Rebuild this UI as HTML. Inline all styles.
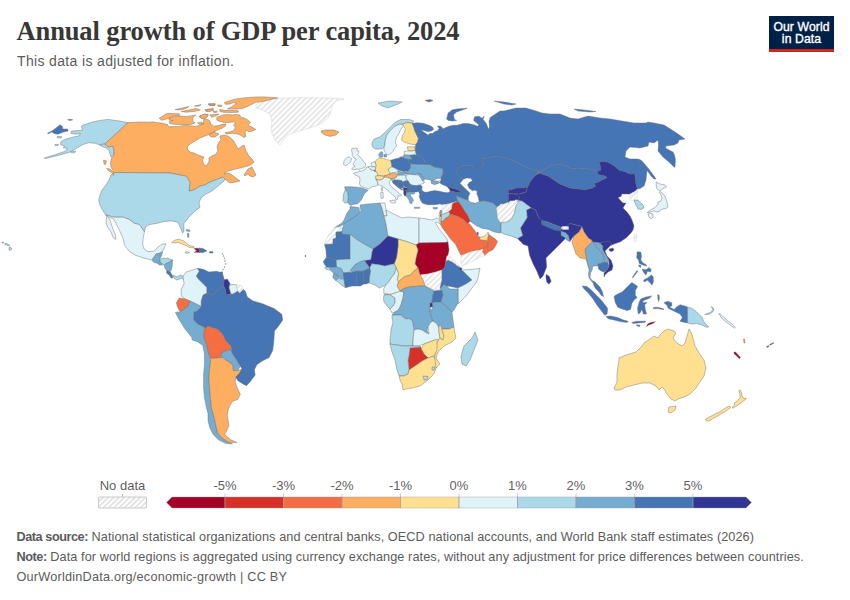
<!DOCTYPE html>
<html><head><meta charset="utf-8"><style>
html,body{margin:0;padding:0;background:#fff;}
body{width:850px;height:600px;position:relative;overflow:hidden;font-family:"Liberation Sans",sans-serif;}
.title{position:absolute;left:16.5px;top:15.7px;font-family:"Liberation Serif",serif;font-weight:bold;font-size:26.5px;color:#373737;white-space:nowrap;letter-spacing:-0.12px;}
.sub{position:absolute;left:17px;top:53px;font-size:14px;color:#5b5b5b;white-space:nowrap;letter-spacing:0.35px;}
.logo{position:absolute;left:769px;top:16px;width:65px;height:36px;background:#002147;}
.logo .bar{position:absolute;left:0;bottom:0;width:65px;height:3px;background:#ce261e;}
.logo .t{position:absolute;left:0;top:6.4px;width:65px;text-align:center;color:#fff;font-size:12.2px;line-height:11.8px;font-weight:normal;letter-spacing:0.1px;-webkit-text-stroke:0.35px #fff;}
.foot{position:absolute;left:16.5px;font-size:12.7px;color:#5b5b5b;white-space:nowrap;}
.foot b{color:#5b5b5b;letter-spacing:-0.45px;}
svg{position:absolute;left:0;top:0;}
.lt{font-family:"Liberation Sans",sans-serif;font-size:13px;fill:#5f5f5f;stroke:none;}
</style></head><body>
<div class="title">Annual growth of GDP per capita, 2024</div>
<div class="sub">This data is adjusted for inflation.</div>
<div class="logo"><div class="t">Our World<br>in Data</div><div class="bar"></div></div>
<svg width="850" height="600" viewBox="0 0 850 600">
<defs><pattern id="hatch" width="3.9" height="4" patternUnits="userSpaceOnUse" patternTransform="rotate(45)"><rect width="3.9" height="4" fill="#fff"/><line x1="0.9" y1="0" x2="0.9" y2="4" stroke="#e4e4e4" stroke-width="1.7"/></pattern><pattern id="hatch2" width="3.75" height="4" patternUnits="userSpaceOnUse" patternTransform="rotate(45)"><rect width="3.75" height="4" fill="#fff"/><line x1="0.8" y1="0" x2="0.8" y2="4" stroke="#dcdcdc" stroke-width="1.5"/></pattern></defs>
<g stroke="#6e6e6e" stroke-width="0.45" stroke-linejoin="round">
<path d="M256,105 264,100 278,98.4 300,97.6 330,98 344,99 336,101 332,106 330,114 328,118 322,123 316,126 306,129 296,132 288,135 282,142 280,145 275,140 271,131 272,122 270,114 262,110 256,108Z" fill="url(#hatch)" stroke="#cfcfcf"/>
<path d="M127.9,122.6 119.4,121 107.8,119.4 99.3,120.5 90.8,122.6 82.4,125.2 81.3,126.8 82.9,130 79.2,130.5 71.8,131.1 70.7,133.2 75,134.2 80.3,133.7 79.2,135.8 71.8,137.4 64.4,139.5 60.7,142.2 60.7,144.8 64.4,145.9 63.3,148 67.5,148 65.4,151.2 55.9,154.4 44.2,158.1 45.3,158.6 58,155.4 69.7,152.3 77.1,148 82.4,144.8 88.7,142.7 95.1,143.3 99.3,144.8 105,144Z" fill="#abd9e9"/>
<path d="M105,144 108,147 113,146 114,150 113.5,155 111,157 110,154 109,150 106,148 100,145.5 100,144.4Z" fill="#abd9e9"/>
<path d="M47.4,133.2 52.7,130.5 60.1,124.7 62.2,126.3 62.8,129 67.5,129 68.1,131.1 63.3,132.1 58,134.2 54.8,133.7 51.7,132.1 48.5,133.7Z" fill="#4575b4"/>
<path d="M128,122.6 140,122 150,122.2 152.3,121.8 156.1,122.6 161.5,123 167.6,124.5 168.3,126.8 179,126.4 184.4,125.2 195.9,126.4 199.7,125.2 203.5,123.7 203.8,118.7 207.6,119.5 209.9,121 210.7,124.1 213.8,126.3 218.3,125.6 222.9,124.1 226,124.1 225.2,126.3 221.4,128.6 216.8,130.2 213,132.5 210,134 205,136 200,138 195,141 190,144 187,147 188,150 190,152 194,153 198,155 204,157 202.5,160 203.5,164 206,166 209,162 209,158 212,156 216,154 218,151 217,147 219,142 221,140 220,136 224,135 228,136 233,140 236,145 238,149 242,146 244,145 246,151 249,156 252,159 254,162 252,164 248,166 244,167 240,168 236,169 232,170 228,171 224,174 229,173 232,175 236,178 240,181 236,182 230,183 227,181 225,179 223,177 218,179 210,182 205,185 200,186 194,190 189,191 190,182 186,176 180,175 170,173 114,172.5 111,167 110.5,163 111.5,158 114,155 114,150 113,146 108,147 105,144Z" fill="#fdae61"/>
<path d="M244,175 248,169 252,167 254,171 256,175 253,177 250,176 248,174 245,176Z" fill="#fdae61"/>
<path d="M114,172.5 170,173 180,175 186,176 190,182 189,191 194,190 200,186 205,185 210,182 218,179 223,177 225,179 224,181 218,186 212,191 206,194 201,198 199,203 200,207.3 195.1,211 188.9,217.2 183.9,223.4 183.9,230.8 182.7,233.3 180.2,227.1 177.8,222.2 171.5,220.9 164.1,221.5 156.7,223.4 149.3,224.6 145.6,227.1 144.4,232 142,228.3 139.5,224.6 134.5,223.4 129.6,219.7 123.4,217.2 113.5,217.2 105.5,214.8 102.4,209.8 99.9,204.9 98.7,200 100,195 102,190 106,185 109,180 111,175Z" fill="#abd9e9"/>
<path d="M105.5,214.8 113.5,217.2 123.4,217.2 129.6,219.7 134.5,223.4 139.5,224.6 142,228.3 144.4,232 143.2,238.2 142.6,244.4 144.4,249.3 148.1,251.7 154.3,251.1 158,246.9 161.7,244.4 166,243.8 164.1,248.1 162.5,251.7 159.2,253.3 155.8,254.2 155,255.8 152.5,259.2 150.8,260 148.3,259.2 143.2,257.9 135.8,255.4 129.6,251.7 124.6,245.6 123.4,239.4 119.7,230.8 116,223.4 113.5,219 109.5,217.5Z" fill="#e0f3f8"/>
<path d="M106.7,215.4 109.8,219.7 112.3,227.1 115.4,234.5 116,239.4 113.5,238.2 111,232 107.4,227.1 106.1,222.2Z" fill="#e0f3f8"/>
<path d="M152.5,259.2 155,255.8 155.8,254.2 159.2,253.3 159.6,258.3 160,261.7 157.5,263.3 154.2,262.5 152.1,260.8Z" fill="#74add1"/>
<path d="M159.6,253.3 162.5,251.7 161.7,255.8 160,258.3Z" fill="#74add1"/>
<path d="M160,259.2 162.5,258.3 168.3,258.3 172.5,260 170,261.7 166.7,263.3 164.2,265 161.7,263.3 160,261.7Z" fill="#abd9e9"/>
<path d="M157.5,263.3 160,261.7 161.7,263.3 162.5,265 159.2,265Z" fill="#74add1"/>
<path d="M164.2,265 166.7,263.3 170,261.7 172.5,260 172.1,266.7 171.3,270 170,271.7 166.7,270.8 165,268.3Z" fill="#74add1"/>
<path d="M166.7,270.8 170,271.7 172.1,275 172.9,277.5 171.3,278.3 169.2,275 166.7,273.3Z" fill="#4575b4"/>
<path d="M172.9,275 176.7,276.7 180.8,275 185,277.5 184.2,280 181.7,278.3 179.2,279.2 176.7,280 174.2,278.3Z" fill="#abd9e9"/>
<path d="M171.7,242.5 175,240 179.2,239.2 183.3,240.8 186.7,243.3 190,245.8 194.2,246.7 193.3,247.9 189.2,247.5 186.7,245.8 182.5,244.2 178.3,242.5 174.2,242.9Z" fill="#fee090"/>
<path d="M194.2,248.3 198.3,248.3 199.2,249.5 199.2,252.5 196,252.3 194.2,252.5 196.7,250.8 195,249.5Z" fill="#a50026"/>
<path d="M199,248 203,248.5 207,251 203,252.5 199,252.5Z" fill="#4575b4"/>
<path d="M185,252 187.5,251.7 189.6,252.7 187.5,253.3 185.5,253Z" fill="#fee090"/>
<path d="M209.6,251.6 213,251.6 213,253 209.6,253Z" fill="#4575b4"/>
<path d="M186,229.5 190,230 189.5,231.5 186.5,231Z" fill="#74add1"/>
<path d="M321,131 326,130 334,130 339,132 336,135 330,136.4 325,135 322,133Z" fill="#fdae61"/>
<path d="M159.2,118.3 166.8,113.4 179,113.8 179.8,115.3 172.9,116.1 169.1,118.3 161.5,120.3Z" fill="#fdae61"/>
<path d="M169.1,118.3 174.5,116.4 180.6,116.1 186.7,116.4 192,115.7 195.9,114.9 192.8,117.6 192.8,121.4 195.1,122.9 190.5,124.5 183.6,124.5 176.8,124.5 169.9,123.7 169.1,121.4 172.9,120.6 169.1,119.9Z" fill="#fdae61"/>
<path d="M175.2,109.6 189,106.5 185.9,108.4 180.6,109.9Z" fill="#fdae61"/>
<path d="M181.3,111.5 192.8,109.2 195.9,108.4 200.5,109.9 194.3,111.5 185.9,112.2Z" fill="#fdae61"/>
<path d="M194.3,106.1 201.2,104.6 198.9,106.1Z" fill="#fdae61"/>
<path d="M205,109.9 213.5,108.4 211.2,110.7 206.6,111.5Z" fill="#fdae61"/>
<path d="M208.1,103.8 215,103.4 215,105.4 209.6,105.4Z" fill="#fdae61"/>
<path d="M198.9,116.8 203.5,114.5 208.1,114.5 206.6,117.6 202,118.3Z" fill="#fdae61"/>
<path d="M197.4,122.9 202,122.2 203.5,123.7 199.7,124.5Z" fill="#fdae61"/>
<path d="M224.5,102.3 230.6,100.4 236.7,98.8 245.9,97.7 257.3,96.9 265,96.9 277.7,97.8 265,101.1 255,102.6 252,104.2 245.9,107.2 241.3,108.8 234.4,109.1 227.5,108.8 232.1,106.5 236.7,103.4 233.6,102.6 229.1,104.2 225.2,104.2Z" fill="#fdae61"/>
<path d="M219.9,109.5 225.2,110.3 232.1,110.3 238.2,110.7 238.2,112.2 230.6,112.6 222.9,112.2 219.9,111.4Z" fill="#fdae61"/>
<path d="M208.4,104.2 215.3,104.6 213.8,105.7 209.2,105.3Z" fill="#fdae61"/>
<path d="M217.6,104.9 222.2,105.3 221.4,106.5 218.3,106.5Z" fill="#fdae61"/>
<path d="M205.4,109.9 213,108.8 213.8,110.3 209.2,111.4 206.1,111.1Z" fill="#fdae61"/>
<path d="M213,111.4 216.8,111.1 217.2,112.2 213.8,112.6Z" fill="#fdae61"/>
<path d="M216.8,117.2 222.9,114.9 227.5,114.5 232.1,114.9 235.9,114.5 239.8,114.9 240.5,117.2 244.3,117.9 248.2,120.2 250.5,122.5 248.9,124.1 248.2,125.6 252,127.1 255.8,129.4 252.8,130.9 248.9,131.7 245.9,130.2 245.1,133.2 245.9,136.3 243.6,137.8 241.3,135.5 237.5,134 232.1,133.2 226,134 225.2,132.5 230.6,131.7 234.4,130.2 235.2,127.1 233.6,124.8 235.9,123.3 233.6,121.8 229.1,122.5 224.5,122.5 219.9,121.4 216.8,120.2Z" fill="#fdae61"/>
<path d="M209,135 214,132 219,134 215,137 211,137Z" fill="#fdae61"/>
<path d="M200,115.6 204.6,114.1 208.4,114.9 206.1,117.9 201.5,118.7Z" fill="#fdae61"/>
<path d="M209.9,114.9 219.1,114.1 216.8,115.6 211.5,117.2Z" fill="#fdae61"/>
<path d="M378,103 390,101 402,102 398,104 388,108 382,106Z" fill="#abd9e9"/>
<path d="M372.4,142 374.1,139.1 380,136.8 384.7,132.6 389.4,127.9 395,122.5 400.6,119.5 409.1,119.5 413.8,120.9 412,123.3 407.2,122.4 402.5,124.2 398.8,124.4 394.1,126.8 389.4,131.5 386.5,135.6 385.3,140.3 384.7,145.6 382.9,148.5 380,149.1 375.3,149.1 372.9,147.4 371.8,144.4Z" fill="#abd9e9"/>
<path d="M384.7,145.6 385.3,140.3 386.5,135.6 389.4,131.5 394.1,126.8 398.8,124.4 402.5,124.2 403.5,126.1 401,129 398.8,133.8 396.5,137.4 395.3,142.1 396.5,145.6 394.1,149.1 392.9,151.5 390.6,153.8 388.2,155 385.9,153.8 384.1,150.3 384.1,147.4Z" fill="#e0f3f8"/>
<path d="M402.5,124.2 407.2,122.4 412,123.3 413.8,127.1 414.8,130.8 416.6,134.6 418.5,138.4 417.6,142.1 415.7,144.9 410,144 404.4,142.1 401.6,140.2 402.5,135.5 404.4,132.7 405.4,128.9 403.5,126.1Z" fill="#fee090"/>
<path d="M407.2,146.8 414.8,146.8 414.8,151.2 408.2,150.6Z" fill="#fee090"/>
<path d="M404,151.5 408,150.8 411,151.2 415.3,150.3 416,153 414.7,155 410,155.3 404.5,155Z" fill="#e0f3f8"/>
<path d="M403.5,155 410,155.3 414.7,155 413,158.5 409,159.7 404.5,158.5Z" fill="#74add1"/>
<path d="M409.4,155.6 414.7,155 416.5,155 421.2,156.2 424.7,160.9 423.5,164.4 416.5,164.4 410.6,163.8 408.2,160.9 409,159.7 413,158.5Z" fill="#4575b4"/>
<path d="M390.6,160.3 396.5,158.5 403.5,157.4 404.5,158.5 409,159.7 408.2,160.9 410.6,163.8 410.6,167.9 408.2,170.9 403.5,171.5 398.8,170.3 395.3,168.5 391.8,166.8 391.2,163.2Z" fill="#4575b4"/>
<path d="M399.5,157.2 403.5,156.5 403.5,157.4 400,158Z" fill="#4575b4"/>
<path d="M375,161.5 378.8,157.9 383.5,158.5 387.1,159.7 390.6,160.3 391.2,163.2 391.8,166.8 388.2,169.1 390.6,172.6 389.4,175 383.7,176 380,175.5 377.5,175.5 377,172.5 375.5,171.5 375,170 375.7,168 376,165.5Z" fill="#fee090"/>
<path d="M378.8,153.8 381.2,151.5 382.9,152.6 382.9,156.8 380,157.6 378.8,155.6Z" fill="#74add1"/>
<path d="M384,154.5 386.5,154.5 386.5,157 384,157Z" fill="#74add1"/>
<path d="M371,163 375,161.5 376,165.5 375,166.5 372.5,167 371.5,165.5Z" fill="#e0f3f8"/>
<path d="M367.5,167 370,166 372.5,167 375,166.5 375.7,168 375,170 374,170.5 371,170 369,167.5Z" fill="#e0f3f8"/>
<path d="M353.5,173.5 355,172.5 358.5,172 359.5,170.5 360,171.5 363,170.5 365,169.5 366,167.5 367.5,167 369,167.5 371,170 374,170.5 375.5,171.5 377,172.5 378,175 376,178 375.5,179 377,181 378,185 376,186 372.5,186.5 370,188 368.5,189 366,188 362.5,187 360,185.5 359.5,183 360,180 359.5,177 357.5,176 355.5,175Z" fill="#e0f3f8"/>
<path d="M381.3,187.7 382.7,187.7 382.3,190.7 381.3,190.3Z" fill="#e0f3f8"/>
<path d="M351.7,148.7 354,148.2 357.5,148.5 356.9,150.5 358.7,151.1 358.7,152.8 357.5,154.6 359.8,156.9 362.2,159.2 363.9,162.2 365.7,163.3 365.7,165.7 364.5,167.4 361.6,168.6 359.2,169.2 356.3,169.2 353.4,169.7 351.7,169.2 353.4,166.8 355.2,166.2 352.8,164.5 354,162.2 355.2,160.4 356.3,159.2 354,158.1 352.2,155.7 352.2,152.8 351.7,151.1Z" fill="#e0f3f8"/>
<path d="M343.5,164.5 344.1,160.4 347,157.5 349.3,156.9 351.7,158.7 350.5,162.2 347.6,164.5 345.2,165.7Z" fill="#e0f3f8"/>
<path d="M388.2,169.1 391.8,166.8 395.3,168.5 397.7,170 398.3,171.3 395,172.7 393.7,172.7 389.7,173.3Z" fill="#e0f3f8"/>
<path d="M397.7,172.7 398.3,171.3 401.7,172 407,172 406.3,174 401.7,175 397.7,175.3Z" fill="#74add1"/>
<path d="M383.7,176 387,175 389.7,174 393.7,172.7 397,174 397,176.7 395,178 391,178.7 387,177.3 384.3,177.3Z" fill="#fdae61"/>
<path d="M375.5,176 380,175.5 383,176.5 384,178 381,180 378,180 376,179Z" fill="#fee090"/>
<path d="M397.7,175.3 401.7,175.2 405.7,175.3 406.3,178.7 408.3,181.3 405.7,180.7 403,182 401.7,180.7 397.7,180 395,180.3 394.3,178.7 395,178 397,176.7Z" fill="#e0f3f8"/>
<path d="M405.7,175.3 409.7,174 415,174.7 419,175.3 421.7,178.7 423,182 424.8,182.1 423.5,183.5 421.7,184 420.3,185 416.3,185.7 412.3,185.3 409.7,184 408.3,181.3 406.3,178.7Z" fill="#e0f3f8"/>
<path d="M410.6,167.9 410.6,163.8 416.5,164.4 423.5,164.4 429.4,164.4 434.1,166.8 440,168 442.5,168 443.2,172.2 442.5,175 441,177.9 438.2,178.6 434.7,179.3 431.2,181.4 431.9,183.2 434.7,184.2 437.5,183.2 436,182 433,181 429.8,180 426.9,179.3 424.5,179 422,176 420,173.8 415,174.7 409.7,174 406.3,174 407,172 407.6,170.9 408.2,170.9Z" fill="#74add1"/>
<path d="M418,173 421,174 423,177 424.5,180 423,181 421.5,179 419.5,176Z" fill="#74add1"/>
<path d="M391,179.3 394.3,178.7 395,180.3 392.3,181Z" fill="#abd9e9"/>
<path d="M392.3,181 395,180.3 397.7,180 401.7,180.7 403,182.7 399,183 397,182.7 397.7,185.3 400.3,188 403,190 401.7,190 398.3,187.7 395,184.7 393,183.3Z" fill="#4575b4"/>
<path d="M397,182.7 399,183 403,182.7 403.7,186 403,188 400.3,188 397.7,185.3Z" fill="#4575b4"/>
<path d="M403,182.7 403,182 405.7,180.7 408.3,181.3 409.7,184 411,187.3 409.7,190 407.7,190 407.7,188 405.7,187.3 403.7,186Z" fill="#4575b4"/>
<path d="M403,188 404.3,187.3 405.7,188 407.7,188 407.7,190 405,190 403.7,190Z" fill="#313695"/>
<path d="M403.7,190 405.7,190 406.3,192.7 406,195.3 405,196.3 403.7,194 403.7,192Z" fill="#313695"/>
<path d="M405.7,190 409.7,190 409.7,192 407,192.7 406.3,192.7Z" fill="#4575b4"/>
<path d="M409.7,184 412.3,185.3 416.3,185.7 420.3,185 422.3,186.7 421.7,190 420.3,191.3 416.3,192 412.3,192 409.7,192 409.7,190 411,187.3Z" fill="#4575b4"/>
<path d="M405.7,195.3 406,195.3 406.3,192.7 407,192.7 409.7,192 412.3,192 415,192.7 414.3,194 411.7,194 410.3,195.3 412.3,198 413.7,200.7 412.3,202 411.3,204 409.7,202.7 409,200 407.7,198 406.3,196.7Z" fill="#74add1"/>
<path d="M414.3,207.3 419.7,207.3 419.7,208.3 414.3,208.3Z" fill="#74add1"/>
<path d="M433,207.6 437.6,207.4 437,209 433.5,209Z" fill="#74add1"/>
<path d="M344.7,186.8 351.8,186.8 360,187.4 363.5,188.5 368.2,190.3 364.7,193.2 362.9,196.8 361.2,200.3 357.6,203.8 352.9,204.4 350.6,205.6 347.6,202.6 348.2,196.8 347.6,192.1 345.3,190.3Z" fill="#74add1"/>
<path d="M345.3,190.3 347.6,192.1 348.2,196.8 347.6,202.6 344.7,203.2 342.9,200.3 343.5,194.4 344.7,190.9Z" fill="#abd9e9"/>
<path d="M377.7,181.3 376,179 378,180 381,180 384,178 384.3,177.3 387,177.3 391,178.7 391,180 389.7,181 389,182 390.3,185.3 393,188 396.3,190.7 398.3,192.7 400.3,194 401.7,195.3 399.7,196 398.3,195.3 397.7,198 397,200 395.7,199.3 395,196.7 393,195.3 390.3,192.7 386.3,189.3 383,186.7 379.7,185.3 377.7,184.3Z" fill="#e0f3f8"/>
<path d="M389.7,200.7 395,200 395.7,202.7 393,203.3 390.3,202Z" fill="#e0f3f8"/>
<path d="M381,192 383,192 383.3,198 381.3,198.7 380.7,195.3Z" fill="#e0f3f8"/>
<path d="M419.9,194.1 419,192 422,190.6 424.1,192 426.9,192.3 430.5,191.3 434.7,190.6 439.6,191.3 443.9,192.3 448.1,192.7 450.2,191.3 452.3,191.3 456.6,192.3 458.3,196.7 457,199 458.3,201.7 455.9,201.2 452.3,202.6 449.5,203.3 443.9,204.7 439.6,204 434.7,204.7 427.6,204.7 422.7,203.3 420.6,200.5 419.2,196.2Z" fill="#4575b4"/>
<path d="M419,191.3 421.5,190.8 422,190.6 421,192.5 419.5,193.4Z" fill="#4575b4"/>
<path d="M412,123.3 417.6,122.8 423.2,123.3 428.9,125.2 432.6,127.1 433.6,129.4 431.7,130.8 427.9,131.8 424.2,130.4 421.4,129.9 423.2,131.8 426.1,133.6 427.9,135.1 429.8,133.6 432.6,133.6 434.5,131.8 437.4,130.8 439.2,128.5 437.4,126.1 440.2,126.1 442.1,127.5 443,128.9 445.8,127.5 449.6,126.1 453.4,125.2 457.1,125.2 460.9,124.2 463,123.6 468.3,123.6 473.6,124.7 477.8,126.3 478.9,124.7 473.6,120.4 474.6,116.7 478.9,116.2 482,118.3 484.2,116.2 483.1,119.4 486.3,123.6 488.4,128.9 487.9,130.5 489.5,127 489,121 490.5,117.2 494.7,114.6 500,110.9 504,111 516,108 526,108 536,111 542,113 550,114 560,114 570,118 578,119 588,116 600,118 610,119 622,121 634,123 646,123 648,122 654,123 664,125 672,130 678,134 685,139 679,140 678,143 674,145 666,146 665.5,148 670,150.5 673,152 674.5,155 675.5,160 675,166 674.5,167.5 670,163 663,157 658,151 658.5,145 658,140 654,143 649,142 648,146 640,148 630,147 626,151 625,157 630,159 638,159 644,164 647,170 646,180 644,186 640,188.5 637.5,189 636,184 635,174 630,174 625,171.7 618.8,169.9 614.2,165.8 608.3,162.3 602.5,161.2 599,162.3 600.2,165.8 600.7,169.9 597.2,171.7 594,170 586,168 578,169 570,168 566,166 558,164 550,166 540,172 534,170 526,167 518,163 510,159 498,156 492,157 482,159 481.8,161.2 484.1,164.7 480.6,167 474.7,167 468.8,165.3 462.5,165.8 458.3,167.5 456.7,171.7 457.5,175 461.7,178.3 463.3,179.2 460,183.3 463.3,186.7 463,187.8 459.4,190.6 455.9,189.2 450.9,187.8 446.7,186.3 443.2,184.9 439.6,182.8 441,180 441,177.9 442.5,175 443.2,172.2 442.5,168 440,168 434.1,166.8 429.4,164.4 423.5,164.4 424.7,160.9 421.2,156.2 416.5,155 416,153 415.3,150.3 415.3,146.5 415.7,144.9 417.6,142.1 418.5,138.4 416.6,134.6 414.8,130.8 413.8,127.1Z" fill="#4575b4"/>
<path d="M447.1,117.2 448.1,113 452.4,109.8 458.7,108.8 467.2,108.2 463,109.8 456.6,112 453.4,115.1 454.5,119.4 456.6,120.4 452.4,121 448.1,120.4 446.5,118.8Z" fill="#4575b4"/>
<path d="M494,101 504,102 516,104 512,105 504,104Z" fill="#4575b4"/>
<path d="M574,109 584,110 596,111.5 590,112 578,111Z" fill="#4575b4"/>
<path d="M639,159 642,161 648,168 651,172 654,176 656,179 654,179 651,176 649,173 644,167Z" fill="#4575b4"/>
<path d="M456.7,171.7 458.3,167.5 462.5,165.8 468.8,165.3 474.7,167 480.6,167 484.1,164.7 481.8,161.2 482,159 492,157 498,156 510,159 518,163 526,167 534,170 540,172 538,173 536,175 533,178 530,182 527.6,187.1 522,188 516,188 511,190 508.3,190 508.3,193.3 508.3,201.7 503.3,204.2 496.7,206.7 493.3,203.3 488.3,201.7 483.3,200.8 479.2,201.7 475.8,203.3 470.8,202.5 468.3,200 465,199.2 460.8,197.5 458.3,196.7 455.8,192.5 460,191.7 459.2,189.5 463,187.8 463.3,186.7 460,183.3 463.3,179.2 461.7,178.3 457.5,175Z" fill="#4575b4"/>
<path d="M508.3,190 511,190 516,188 522,188 527.6,187.1 526,192 520,194 514,194 508.3,193.3Z" fill="#313695"/>
<path d="M508.3,193.3 514,194 520,194 522,197 517.5,200 515,200.8 508.3,203.3 508.3,201.7Z" fill="#313695"/>
<path d="M540,172 550,166 558,164 566,166 570,168 578,169 586,168 594,170 597.2,171.7 597.8,174.6 604.2,175.7 607.2,177.5 602.5,179.8 597.8,182.2 594.3,183.3 595.5,186.2 590.8,188.6 585,189.7 570,188 560,184 548,176 539,173Z" fill="#4575b4"/>
<path d="M539,173 548,176 560,184 570,188 585,189.7 590.8,188.6 595.5,186.2 594.3,183.3 597.8,182.2 602.5,179.8 607.2,177.5 604.2,175.7 597.8,174.6 597.2,171.7 600.7,169.9 600.2,165.8 599,162.3 602.5,161.2 608.3,162.3 614.2,165.8 618.8,169.9 625,171.7 630,174 635,174 636,184 637.5,189 635,191.5 630,194 622,194 621,196.5 618,197.5 621,201 623,203 626,203 623,208 627,212 630,216 632,220 634,226 633,230 631,233 626,238 620,242 614,244 611,245.5 608,241.5 604,242.5 600,243 593,242 590,240 584,232 582,227 580,226 576,225 570,223.5 568.5,226.5 562.5,226.5 561,227.2 555,225 547.5,222 541.5,220.5 538.5,217.5 535.5,210 531,207.7 522,201 518,200.3 520,197 514,194 520,194 526,192 527.6,187.1 530,182 533,178 536,175Z" fill="#313695"/>
<path d="M609,249 613,248 614,250 612,251.5 609.5,251Z" fill="#313695"/>
<path d="M634.5,234 637,234.5 636.5,241 634.5,242 633.8,238Z" fill="url(#hatch)" stroke="#cfcfcf"/>
<path d="M630,194 635,191.5 637.5,189 637.5,192.5 637,197 634,199 632,201 630,199 629.5,196Z" fill="url(#hatch)" stroke="#cfcfcf"/>
<path d="M634,200 638,200 643,205 644,208 641,209.5 638,209 636.5,206 635,203Z" fill="#abd9e9"/>
<path d="M656,182 660,184 665,185 666.5,187 663,188.5 660,191 658,190 656.5,188Z" fill="#e0f3f8"/>
<path d="M660,191.5 662,193 665,196 667,202 668,207 666,208.5 662,209 660,211 657,212 654,211 650,212 647,213 649,211 652,209 655,207.5 658,204 658,202 661,201 662,198 661,195 659.5,192.5Z" fill="#e0f3f8"/>
<path d="M650,213 653,214 653,217 651,219 649,217 648,214Z" fill="#e0f3f8"/>
<path d="M531,207.7 535.5,210 538.5,217.5 544.5,222 550.5,225 558,228 561,229.5 570,223.5 576,225 580,226 582,227 579,232 573,237 570,241.5 565.5,238.5 561,243 552,252 546,258 546.7,267 543,276 540,279 537,271.5 532.5,262.5 529.5,255 528,246 523.5,244.5 517.5,238.5 522.7,235.5 520.5,228 527.2,217.5 526.5,210Z" fill="#313695"/>
<path d="M546,274.5 549,276 551.2,281.2 549,284.2 546.7,282 546,277.5Z" fill="#313695"/>
<path d="M541.5,220.5 547.5,222 555,225 561,227.2 561,231 555,230.2 547.5,227.2 541.5,224.2Z" fill="#4575b4"/>
<path d="M562.5,226.5 568.5,226.5 568.5,229.5 562.5,229.5Z" fill="url(#hatch)" stroke="#cfcfcf"/>
<path d="M561,231 565.5,232.5 568.5,235.5 570,241.5 567,240 564,237 561,235.5Z" fill="#74add1"/>
<path d="M582,227 584,232 588,238 592,240 591,244 586,249 588,256 590,262 591,268 590,272 588,266 586,259 580,258 576,254 574,248 572,242 574,236 579,232Z" fill="#fdae61"/>
<path d="M585,249 590,244 593,242 596,246 600,251 602,253 604,257 603,262 599,263 598,266 593,266 592,270 590.5,273 590,278 593,281 596,283 595,284 592,282 589,278 588.5,273 589.5,269 588,264 586,256 585,251Z" fill="#74add1"/>
<path d="M593,242 600,243 603,246 603,250 606,255 609,260 608,263 604,262 604,257 602,253 600,251 596,246Z" fill="#74add1"/>
<path d="M600,243 608,241 612,244 611,245 605,251 607,256 611,260 613,266 612,270 608,272 605,275 604,277 604,273 607,270 609,266 609,260 606,255 603,250 603,246Z" fill="#313695"/>
<path d="M598,264 604,262 608,263 609,266 607,270 604,272 601,271 598.5,269Z" fill="#4575b4"/>
<path d="M593,281 595.3,282.4 600,287.1 602.4,291.8 603.5,296.5 601.2,295.3 598.8,291.8 595.3,288.2 593.5,284.7Z" fill="#4575b4"/>
<path d="M582.4,285.9 587.1,286.5 591.8,290.6 596.5,295.3 601.2,300 605.9,305.9 607.6,308.2 607.1,314.1 604.7,315.3 601.2,310.6 597.6,305.9 592.9,298.8 588.2,292.9 583.5,288.2Z" fill="#4575b4"/>
<path d="M605.9,316.5 610.6,315.9 617.6,317.6 623.5,320 628.2,321.2 627.1,322.4 621.2,321.8 614.1,320 608.2,318.8Z" fill="#4575b4"/>
<path d="M631.8,322.4 636.5,321.2 645.9,321.2 644.7,322.4 638.8,322.9 632.9,323.5Z" fill="#4575b4"/>
<path d="M650.6,322.4 655.3,321.8 652.9,323.5 648.2,325.3 646.5,326.5 647.6,324.1Z" fill="#a50026"/>
<path d="M614.1,296.5 615.3,295.3 622.4,291.8 627.1,287.1 631.8,282.4 635.3,284.7 637.6,286.5 635.3,290.6 635.3,295.3 637.1,297.6 634.1,300 631.8,303.5 630.6,309.4 627.1,310.6 620,308.2 617.6,307.1 615.3,302.4Z" fill="#4575b4"/>
<path d="M641.2,298.8 645.9,297.1 651.8,295.9 649.4,298.2 643.5,300.6 642.4,302.4 647.1,302.4 644.7,304.7 645.3,309.4 646.5,314.1 643.5,314.1 641.8,309.4 640,312.9 638.2,314.1 637.6,308.2 638.8,303.5 640,300Z" fill="#4575b4"/>
<path d="M657.6,294.7 659,295 659.4,298.5 658.7,301.8 658,299Z" fill="#4575b4"/>
<path d="M637,251.8 640.8,252.1 641.5,256.3 640.8,260 643,263 646,264.5 646.8,266 644.5,265.6 641.5,264.5 639.3,263.4 638.5,260 636.6,257.8 637,254.8Z" fill="#4575b4"/>
<path d="M638.5,264.9 640.8,265.3 640.8,267.5 639.3,266.8Z" fill="#4575b4"/>
<path d="M644.5,279.5 647.5,278 651.3,275 653.1,276.5 653.5,281.8 652,285.1 649.8,282.5 647.5,280.3 644.5,281.8 643.4,281Z" fill="#4575b4"/>
<path d="M637,270.5 637.8,271.3 633.3,277.3 632.5,278 632.9,276.5Z" fill="#4575b4"/>
<path d="M642.3,269 646,269.8 649,267.5 651.3,269.8 650.5,272 647.5,271.3 646,275 644.5,273.5 643,271.3Z" fill="#4575b4"/>
<path d="M664.1,302.4 668.2,301.2 671.8,302.9 671.8,305.9 669.4,307.1 674.1,309.4 676.5,307.1 680,304.7 684.7,305.9 687.6,307.1 687.6,322.9 684.7,322.4 680,321.2 682.4,317.6 680,314.1 675.3,311.8 670.6,309.4 668.2,308.2 667.1,305.3 664.7,303.5Z" fill="#4575b4"/>
<path d="M687.6,307.1 691.8,308.2 696.5,311.8 700,315.3 702.4,317.6 703.5,321.2 708.8,327.1 705.9,327.1 701.2,324.7 696.5,323.5 691.8,324.1 687.6,322.9Z" fill="#abd9e9"/>
<path d="M704.7,314.7 709.4,314.1 712.9,311.8 714.1,308.8 711.2,306.5 712.9,309.4 710.6,312.4 707.1,313.5Z" fill="#abd9e9"/>
<path d="M718.8,313.5 720,313.8 724,317.5 728,321 733,324.5 735.3,327.5 734.5,328.2 731,325.5 726,322 721,317.5Z" fill="#e0f3f8"/>
<path d="M619,358 626,355 636,352 642,346 644,343 650,339 654,336 658,338 660,335 664,331 668,329 674,331 676,333 673,338 677,343 682,346 685,343 687,336 689,329 691,332 693,338 695,346 698,351 701,356 704,360 706,368 704,376 700,382 696,388 690,394 684,397 678,399 675,401 671,399 667,394 664,389 662,387 659,390 656,386 650,383 642,383 634,385 626,387 620,390 615,390 614,388 617,382 617,374 618,366 619,360Z" fill="#fee090"/>
<path d="M669,407 676,406 675,410 671,413 668,412Z" fill="#fee090"/>
<path d="M739.3,390 740.7,390.7 741.7,393 742,395.7 743.3,398.3 746.3,398.3 745.3,399.7 743.3,401 740,403.7 736,406.3 732.7,408.3 732.3,407 734.7,405 734,403 737.3,401 740,397.7 740,394.3 739,391.7Z" fill="#fee090"/>
<path d="M730,406.3 730.7,407.7 728,409.7 724,412.3 721.3,413.7 717.3,416.3 713.3,418.3 709.3,421 706,420.7 705.3,419.3 709.3,417 714.7,414.3 720,411.7 724,409 728,406.3Z" fill="#fee090"/>
<path d="M734,352 735.5,352 740.5,357.5 739.5,358.8 734,353.5Z" fill="#a50026"/>
<path d="M743.5,339 744.5,339 745,343 744,343Z" fill="#fdae61"/>
<path d="M766.5,346.5 768.5,345.5 769,346.5 767,347.5Z" fill="#4575b4"/>
<path d="M446.7,186.3 450.9,187.8 455.9,189.2 459.4,190.6 460.8,192.3 456.6,192.3 452.3,191.3 450.2,191.3 449.5,189.2Z" fill="#313695"/>
<path d="M456.6,192.3 460.8,192.3 459.4,190.6 463,187.8 463.3,186.7 466.7,190 470,193.3 468.3,196.7 468.3,200 465,199.2 460.8,197.5 458.3,196.7Z" fill="#4575b4"/>
<path d="M455.8,194.5 458.3,196.7 460.8,197.5 465,199.2 468.3,200 470.8,202.5 475.8,203.3 479.2,201.7 483.3,200.8 488.3,201.7 493.3,203.3 496.7,206.7 496.5,208.5 497.2,213 498,219 501,222.7 501,232.5 500,233 494,232 488.8,229.4 481.8,228.2 477,226 470,221.2 467.6,215.3 465,211.7 460.8,205 458.3,201.7 457,199Z" fill="#74add1"/>
<path d="M496.5,208.5 501,204 503.3,204.2 508.3,203.3 510,201 515,200.8 516,199.5 518.2,202.5 516,205.5 514.5,213 511.5,219 507,222 501,222.7 498,219 497.2,213Z" fill="url(#hatch)" stroke="#cfcfcf"/>
<path d="M501,232.5 501,222.7 507,222 511.5,219 514.5,213 516,205.5 518.2,202.5 517.5,201 522,201 531,207.7 526.5,210 527.2,217.5 520.5,228 522.7,235.5 517.5,238.5 511.5,236.2 504,234Z" fill="#abd9e9"/>
<path d="M443,204.7 452.4,204.1 451.8,208.8 448.8,211.8 444.1,214.1 441.8,211.8 441.8,207Z" fill="url(#hatch)" stroke="#cfcfcf"/>
<path d="M452.4,204.1 454.2,202.5 458.3,201.7 460.8,205 465,211.7 467.6,215.3 470,221.2 467.6,224.1 464.1,220 458.2,216.5 450,214 448.8,211.8 451.8,208.8Z" fill="#d73027"/>
<path d="M441.2,213.8 444.1,214.1 448.8,211.8 450,214 448.8,216.8 445.9,217.9 442.9,221.5 441.2,221.5Z" fill="#abd9e9"/>
<path d="M439.4,213 441.2,213 441.2,221.5 440.5,221.5 439,216Z" fill="#fee090"/>
<path d="M440.4,214.5 441,214.5 441,216.5 440.4,216.5Z" fill="#a50026"/>
<path d="M440,210.5 442,210.5 441.5,213 439.8,213Z" fill="#74add1"/>
<path d="M440.6,224.4 441.2,221.5 442.9,221.5 445.9,217.9 448.8,216.8 450,214 458.2,216.5 464.1,220 467.6,224.1 469.4,223.8 471.8,226.8 475.3,231.5 477.6,235.6 480,237.4 487.6,241.5 488.2,246.2 483.5,248.5 478.8,250.3 471.8,251.5 467.1,253.2 461.2,255.6 458.8,250.9 455.3,243.8 450.6,239.1 446.5,233.2 442.4,227.9Z" fill="#f46d43"/>
<path d="M479.4,237.4 484.7,236.2 488.2,232.1 488.8,234.4 487.6,240.3 483.5,240.3 480,239.7Z" fill="#fee090"/>
<path d="M477,232 478.3,232.5 478.2,235 477,234.8Z" fill="#d73027"/>
<path d="M487.6,241.5 487.6,240.3 488.8,234.4 491.8,236.8 495.3,239.1 497.6,241.5 495.3,246.2 492.9,249.7 488.2,252.1 484.7,255.6 482.4,252.1 483.5,248.5 488.2,246.2Z" fill="#f46d43"/>
<path d="M461.2,255.6 467.1,253.2 471.8,251.5 478.8,250.3 482.4,252.1 484.7,255.6 478.8,257.9 471.8,261.5 464.7,265 461.8,266.2 460.6,261.5Z" fill="url(#hatch)" stroke="#cfcfcf"/>
<path d="M350,206.5 359,207.5 360,215 355,217.5 350,220 344,224 340,226.5 337,227 334,228 337,226 342,223 344,220 347,213 350,209Z" fill="#74add1"/>
<path d="M334,228 337,227 343,228 343,231.5 336,232 336,238 333,239 333,244 324.5,244 326,240 329,234 332,230Z" fill="url(#hatch)" stroke="#cfcfcf"/>
<path d="M336,232 343,231.5 343,229 350,234 350,246 350.2,259 341.2,259.5 335.9,260 329.5,256.9 326.4,257.4 326,250 324.5,244.5 333,244 333,239 336,238Z" fill="#4575b4"/>
<path d="M360,205 368,204 380,203 382,208 384,216 386,224 388,236 380,244 373,249 364,244 356,239 350,235 342,234 342,230 344,224 350,220 356,216 361,211Z" fill="#74add1"/>
<path d="M380,203 385,203 386,210 387,216 384,216 382,208Z" fill="#e0f3f8"/>
<path d="M386,210 394,214 402,218 408,217 419,218 419,243 416,245 408,242 398,239 388,236 386,224 384,216 387,216Z" fill="#e0f3f8"/>
<path d="M419,218 424,218.5 432,220 437.6,217.9 439.4,220.3 440.6,224.4 437,222 435.3,222.6 438.8,228.5 443.5,234.4 447.1,239.1 448,242 444.7,242.6 419,243Z" fill="#e0f3f8"/>
<path d="M419,243 444.7,242.6 448,242 449,250 448,255 447,256 445.9,261.5 444.7,267.4 442,270 436,272 428,274 420,275 418,268 415,264 416,258 418,250 416,245Z" fill="#a50026"/>
<path d="M420,275 428,274 436,272 442,270 442,280 444,284 440,289 433,290 425,286 423,280Z" fill="url(#hatch)" stroke="#cfcfcf"/>
<path d="M447,256 450.6,256.8 455.3,261.5 460,266.2 457.6,266.2 452.9,262.6 448.2,260.3 445.9,261.5Z" fill="url(#hatch)" stroke="#cfcfcf"/>
<path d="M442,270 444.7,267.4 445.9,261.5 448.2,260.3 452.9,262.6 457.6,266.2 460,267.4 461.5,270 464,272 472,280 466,284 458,288 448,286 440,288 442,280Z" fill="#4575b4"/>
<path d="M459.4,267.4 461.8,268 461.5,270.3 459.8,270Z" fill="#313695"/>
<path d="M461.5,270 470,269.5 480,268.5 478,278 476,283 472,288 466,296 458,304 458,298 458,288 466,284 472,280 464,272Z" fill="#e0f3f8"/>
<path d="M398,239 408,242 416,245 418,250 416,258 415,264 418,268 414,271 410,275.4 404.7,276.5 398.4,281.8 397.3,279.7 398.4,273.3 396.3,268 394.2,263.8 396.3,258 397,254 398,246Z" fill="#fee090"/>
<path d="M398.4,281.8 404.7,276.5 410,275.4 414,271 418,268 420,275 423,280 425,286 420,286 410,287 405,288 400,291 397,286Z" fill="#fdae61"/>
<path d="M388,236 398,239 398,246 397,254 396.3,258 394.2,263.8 384.6,265.9 379.3,264.8 371.9,263.8 369.8,268 366.6,263.8 364.5,260.6 370.8,259.5 372,252 373,249 380,244Z" fill="#313695"/>
<path d="M350,234 356,239 364,244 373,249 372,252 370.8,259.5 364.5,260.6 360.3,261.7 355,264.8 350.7,270.1 349.7,272.2 345.4,272.8 343.3,272.8 341.2,268.5 336.4,267 335.9,260 341.2,259.5 350.2,259 350,246Z" fill="#abd9e9"/>
<path d="M323.2,261.7 326.4,257.4 329.5,256.9 335.9,260 336.4,267 331.7,267.5 326.4,267 324.8,264.8Z" fill="#4575b4"/>
<path d="M330.6,267.5 336.4,267 341.2,268.5 343.3,272.8 343.8,278.6 340.7,279.1 339.1,276.5 337,275.4 333.8,273.3 330,270Z" fill="#74add1"/>
<path d="M333.8,273.3 337,275.4 339.1,276.5 338.5,278 335.9,280.7 332.7,277.5Z" fill="#74add1"/>
<path d="M338.5,278 340.7,279.1 343.8,278.6 344.4,281.8 345.4,287.6 341.2,285 338,281.8 335.9,280.7Z" fill="#abd9e9"/>
<path d="M343.3,272.8 345.4,272.8 349.7,272.2 351.8,272.2 356,271.2 356.5,280.7 357.1,286 351.8,286 346.5,287.6 345.4,287.6 344.4,281.8 343.8,278.6Z" fill="#4575b4"/>
<path d="M350.7,270.1 355,264.8 360.3,261.7 364.5,260.6 366.6,263.8 369.8,268 365.6,270.1 362.4,271.2 356,271.2 351.8,272.2Z" fill="#74add1"/>
<path d="M356,271.2 362.4,271.2 363.4,274.4 364,283.9 360.3,286 357.1,286 356.5,280.7Z" fill="#4575b4"/>
<path d="M362.4,271.2 365.6,270.1 369.8,268 370.8,271.2 369.8,275.4 369.3,282.8 366,284 364,283.9 363.4,274.4Z" fill="#4575b4"/>
<path d="M370.8,271.2 369.8,268 371.9,263.8 379.3,264.8 384.6,265.9 394.2,263.8 396.3,268 394.2,274.4 392,276.5 388.9,281.8 385.7,285 379.3,288.1 375.1,285 371.9,283.9 369.3,282.8 369.8,275.4Z" fill="#abd9e9"/>
<path d="M396.3,268 398.4,273.3 397.3,279.7 398.4,281.8 397,286 400,291 398,292 390,294.5 384,294 383.6,289.2 385.7,285 388.9,281.8 392,276.5 394.2,274.4Z" fill="#e0f3f8"/>
<path d="M385,294 389,294 389,297 385,297Z" fill="#fdae61"/>
<path d="M384,295 390,294.5 392,296 395,298 395,303 393,306 390,309 388,307 384,302 383.5,298Z" fill="#abd9e9"/>
<path d="M390,294.5 398,292 400,291 404,292 403,298 401,305 399,309 397,311 395,312 392,313 390,309 393,306 395,303 395,298 392,296Z" fill="#e0f3f8"/>
<path d="M400,291 405,288 410,287 420,286 425,286 433,290 434,291 432.5,297 432,303 430,306 430,311 431,316 433,321 430,323 428,327 427,331 429,334 425,332 422,330 418,329 414,330 413,324 412,320 409,318.5 406,319 403,317 401,315 392,315 395,312 397,311 399,309 401,305 403,298 404,292Z" fill="#74add1"/>
<path d="M434,291 442,290 443,295 441,302 436,302 432,303 432.5,297Z" fill="#4575b4"/>
<path d="M442,290 440,289 444,284 450,289 458,289 458,296 458,303 454,310 452,312 441,302 443,295Z" fill="#74add1"/>
<path d="M430,303 434,303 434,307 430,307Z" fill="#313695"/>
<path d="M430.5,307 433.5,307 433,311 430.5,311Z" fill="#e0f3f8"/>
<path d="M432,303 436,302 441,302 452,312 453,320 454,327 449,329 443,329 439,328 437,324 433,321 431,316 430,311 433,308Z" fill="#74add1"/>
<path d="M392,315 401,315 403,317 406,319 409,318.5 412,320 413,324 414,330 413,340 413,346 404,346 390,344 390,340 391,330 393,322 392,318Z" fill="#abd9e9"/>
<path d="M414,330 418,329 422,330 425,332 429,334 428,327 430,323 433,321 437,324 439,328 439,332 440,338 438.5,340 436,340 432,341 424,344 418,346 413,346 413,340Z" fill="#e0f3f8"/>
<path d="M439,325 441,326 442,330 444,336 443,340 440,338 439,332Z" fill="#fee090"/>
<path d="M443,329 449,329 454,327 455,334 456,338 452,342 444,346 438,352 436,358 440,364 436,368 434,364 435,354 436,346 438,340 440,338 443,340 444,336 442,330Z" fill="#fee090"/>
<path d="M424,344 432,341 436,339.5 438.5,340 437,342 437,350 434,356 428,358 424,354 421,349Z" fill="#fee090"/>
<path d="M410,348 421,347 421,349 424,354 428,358 422,361 418,364 412,368 409,370 408,360 409,356Z" fill="#d73027"/>
<path d="M390,344 404,346 413,346 418,346 421,347 410,348 409,356 408,360 409,370 408,374 404,376 399,376 397,370 395,360 392,352Z" fill="#abd9e9"/>
<path d="M399,376 404,376 408,374 409,370 412,368 418,364 422,361 428,358 434,356 435,360 436,368 434,374 428,380 420,386 412,388 406,389 403,390 402,384 400,380Z" fill="#fee090"/>
<path d="M423,376 428,376.5 427,380 424,380Z" fill="#abd9e9"/>
<path d="M432,367 435,367 434.5,370 432,370Z" fill="#abd9e9"/>
<path d="M475,332 478,340 474,350 470,360 466,366 462,364 461,356 464,346 468,342 472,338Z" fill="#abd9e9"/>
<path d="M183.1,276 186,272.1 191.7,270.2 197.5,268.3 199.4,271.2 196.5,276 198.4,278.9 203.2,283.6 207,287.5 207,293.2 203.2,295.1 201.3,300.9 201.3,306.6 197.5,304.7 189.8,300.9 185,299 181.2,296.1 181.2,289.4 184.1,283.6 183.1,277.9Z" fill="#e0f3f8"/>
<path d="M197.5,268.3 203.2,269.3 209,272.1 216.6,271.2 222.4,273.1 224.3,279.8 223.3,285.6 218.5,289.4 212.8,295.1 207,293.2 207,287.5 203.2,283.6 198.4,278.9 196.5,276 199.4,271.2Z" fill="#4575b4"/>
<path d="M224.3,279.8 227.2,278.9 230,283.6 229.1,287.5 231,294.2 226.2,295.1 225.2,289.4 223.3,285.6Z" fill="#313695"/>
<path d="M230,284.6 236.7,284.6 237.7,291.3 232.9,294.2 231,294.2 229.1,287.5Z" fill="#e0f3f8"/>
<path d="M236.7,284.6 241.5,285.6 243.4,289.4 239.6,293.2 237.7,291.3Z" fill="url(#hatch)" stroke="#cfcfcf"/>
<path d="M201.3,300.9 203.2,295.1 207,293.2 212.8,295.1 218.5,289.4 223.3,285.6 225.2,289.4 226.2,295.1 231,294.2 232.9,294.2 237.7,291.3 239.6,293.2 243.4,289.4 245.4,291.3 247.3,297 253,300.9 262.6,303.8 274.1,308.5 281.8,314.3 282.7,320 278.6,326 274.5,331 273.7,342.5 272.7,350.5 269.2,357.5 262.2,361 257,364.5 254.3,369.8 255.2,375 250,382 246.5,385.5 243,383.8 237.7,380.3 236,376.8 239.5,373.3 242.1,368.9 240.3,366.2 236,359.3 232.5,354 230.7,349.6 231.7,351.6 230.8,345.8 225.9,340.9 222.6,334.3 217.7,329.3 212.7,327.7 207.8,326 204.5,329.3 205.1,327.7 197.5,323.9 193.6,320 193.6,312.4 197.5,310.5 201.3,306.6Z" fill="#4575b4"/>
<path d="M176.4,302.8 179.3,298 185,299 189.8,300.9 187.9,306.6 181.2,311.4 179.3,310.5 177.4,306.6Z" fill="#f46d43"/>
<path d="M175.4,312.4 181.2,311.4 187.9,306.6 189.8,300.9 197.5,304.7 201.3,306.6 197.5,310.5 193.6,312.4 193.6,320 197.5,323.9 205.1,327.7 204.5,329.3 203.7,335.9 205.3,340.9 207.1,347 208.9,354 210.6,357.5 210.6,361 209.7,368 208.9,378.5 209.7,389 210.6,399.5 211.5,408.3 214.1,417 215.9,425.7 217.6,432.8 222,438 229,442.4 232.5,444 225.5,443.3 218.5,439.8 213.2,434.5 209.7,427.5 208,420.5 208,413.5 206.2,406.5 204.5,397.8 203.6,387.3 203.6,375 204.5,364.5 204.5,354 202.7,345.3 197.5,341.7 192.2,340 191.7,337.3 184.1,327.7 178.3,318.1Z" fill="#74add1"/>
<path d="M204.5,329.3 207.8,326 212.7,327.7 217.7,329.3 222.6,334.3 225.9,340.9 230.8,345.8 230.7,349.6 227.2,350.5 222,352.3 220.2,357.5 213.2,358.4 210.6,357.5 208.9,354 207.1,347 205.3,340.9 203.7,335.9Z" fill="#f46d43"/>
<path d="M222,352.3 227.2,350.5 230.7,349.6 232.5,354 236,359.3 240.3,366.2 237.7,370.6 233.3,370.6 232.5,364.5 227.2,361 222.9,357.5 220.2,357.5Z" fill="#74add1"/>
<path d="M210.6,357.5 213.2,358.4 220.2,357.5 222.9,357.5 227.2,361 232.5,364.5 233.3,370.6 237.7,370.6 242.1,368.9 239.5,373.3 236,376.8 235.1,382 237.7,389 240.3,394.3 237.7,399.5 232.5,401.3 229.9,405.6 228.1,410 227.2,415.3 228.1,420.5 229,425.7 226.4,431 224.6,434.5 230.7,439.8 236.9,442.4 229,442.4 222,438 217.6,432.8 215.9,425.7 214.1,417 211.5,408.3 210.6,399.5 209.7,389 208.9,378.5 209.7,368 210.6,361Z" fill="#fdae61"/>
<path d="M236,377 239.5,373.3 242.1,368.9 246.5,375 247,380 246.5,385.5 243,383.8 237.7,380.3Z" fill="#4575b4"/>
<path d="M9,247.5 11,247.5 12,249 10,250.5 9,250Z" fill="#abd9e9"/>
<path d="M5,243.3 6.5,243.5 10,245.5 9.5,246 5,244.5Z" fill="#abd9e9"/>
<path d="M2,242 3.5,242 3.5,243 2,243Z" fill="#abd9e9"/>
<path d="M106.5,168.5 110,169 114,173 113.5,175.5 112,173 109,171Z" fill="#fdae61"/>
<path d="M103.5,160 106.5,161 105.5,164.5 104,164Z" fill="#fdae61"/>
<path d="M305,255.5 306,255.5 306,256.5 305,256.5Z" fill="#313695"/>
<path d="M324.8,267.5 330.6,267.5 330,270 326.4,269.6Z" fill="#abd9e9"/>
<path d="M460,183.3 463.3,179.2 466.7,177.9 470.8,178.3 472.5,180.8 469.2,182.5 467.5,185 469.2,188.3 472.5,190.8 475,190 477.5,191.7 476.7,193.3 478.3,197.5 479.2,201.7 475.8,203.3 470.8,202.5 468.3,200 468.3,196.7 470,193.3 466.7,190 463.3,186.7Z" fill="#fff"/>
<path d="M434.7,179.3 438.2,178.6 441,177.9 441,180 438.2,181.4 435.4,181.1Z" fill="#fff"/>
<path d="M431.2,181.4 431.5,183.5 434.7,184.5 438,183.5 439.6,182.8 438.5,181.5 435,181 433,180.5Z" fill="#74add1"/>
<path d="M220.5,272 222.5,271.8 222.5,273.3 220.7,273.3Z" fill="#4575b4"/>
<path d="M222.15,253.65 222.85,253.65 222.85,254.35 222.15,254.35Z" fill="#abd9e9"/>
<path d="M223.15,255.65 223.85,255.65 223.85,256.35 223.15,256.35Z" fill="#abd9e9"/>
<path d="M224.15,258.15 224.85,258.15 224.85,258.85 224.15,258.85Z" fill="#abd9e9"/>
<path d="M224.65,260.65 225.35,260.65 225.35,261.35 224.65,261.35Z" fill="#abd9e9"/>
<path d="M225.15,263.65 225.85,263.65 225.85,264.35 225.15,264.35Z" fill="#abd9e9"/>
<path d="M224.15,266.65 224.85,266.65 224.85,267.35 224.15,267.35Z" fill="#abd9e9"/>
<path d="M222.65,269.15 223.35,269.15 223.35,269.85 222.65,269.85Z" fill="#abd9e9"/>
<path d="M653,307.8 656,307.2 659,307.6 664,309 663,309.6 658,308.6 653.5,308.8Z" fill="#4575b4"/>
<path d="M636.5,324.7 640,325.3 640,326.5 637,326Z" fill="#4575b4"/>
<path d="M67.5,119.8 70,119.3 72.8,119.8 70,120.6Z" fill="#4575b4"/>
<path d="M70.7,151.5 73,151 76,151.5 74,152.8 71,152.6Z" fill="#abd9e9"/>
<path d="M54.8,144.5 58.5,144.3 58,145.4 55,145.4Z" fill="#abd9e9"/>
<path d="M57,136.6 61.7,136.6 61,138 57.5,137.8Z" fill="#abd9e9"/>
<path d="M769.5,344.5 773.5,342.5 773.8,343.3 770,345.3Z" fill="#4575b4"/>
<path d="M425,100.5 430,99.5 433,100.5 429,102Z" fill="#4575b4"/>
<path d="M374,170.2 375.3,170.2 375.5,171.5 374.5,171.5Z" fill="#f46d43"/>
<path d="M187.5,233 189,233.5 188.8,237.5 187.5,237Z" fill="#74add1"/>
<path d="M468,186 472,185 478.3,181.7 483.3,180.8 488.3,182.5 494.2,185 498.3,185.8 501.7,189.2 505,191.7 508.3,190" fill="none"/>
<path d="M478.3,181.7 479,186 480,191.5 483.3,189.2 486.7,188.3 491.7,191.7 496.7,195 501.7,198.3 505,200.8 508.3,201.7" fill="none"/>
</g>
<text x="122.5" y="490" text-anchor="middle" class="lt">No data</text>
<line x1="122.5" y1="494" x2="122.5" y2="497" stroke="#888" stroke-width="0.6"/>
<rect x="98.5" y="497" width="48" height="11" rx="1" fill="url(#hatch2)" stroke="#c4c4c4" stroke-width="0.9"/>
<g stroke="#999" stroke-width="0.4"><path d="M166.5,502.5 L172,497 L225,497 L225,508 L172,508 Z" fill="#a50026"/>
<rect x="225" y="497" width="58.5" height="11" fill="#d73027"/>
<rect x="283.5" y="497" width="58.5" height="11" fill="#f46d43"/>
<rect x="342" y="497" width="58.5" height="11" fill="#fdae61"/>
<rect x="400.5" y="497" width="58.5" height="11" fill="#fee090"/>
<rect x="459" y="497" width="58.5" height="11" fill="#e0f3f8"/>
<rect x="517.5" y="497" width="58.5" height="11" fill="#abd9e9"/>
<rect x="576" y="497" width="58.5" height="11" fill="#74add1"/>
<rect x="634.5" y="497" width="58.5" height="11" fill="#4575b4"/>
<path d="M693,497 L746,497 L751.5,502.5 L746,508 L693,508 Z" fill="#313695"/>
<line x1="225" y1="493.5" x2="225" y2="508" stroke="#999" stroke-width="0.5"/>
<text x="225" y="490" text-anchor="middle" class="lt">-5%</text>
<line x1="283.5" y1="493.5" x2="283.5" y2="508" stroke="#999" stroke-width="0.5"/>
<text x="283.5" y="490" text-anchor="middle" class="lt">-3%</text>
<line x1="342" y1="493.5" x2="342" y2="508" stroke="#999" stroke-width="0.5"/>
<text x="342" y="490" text-anchor="middle" class="lt">-2%</text>
<line x1="400.5" y1="493.5" x2="400.5" y2="508" stroke="#999" stroke-width="0.5"/>
<text x="400.5" y="490" text-anchor="middle" class="lt">-1%</text>
<line x1="459" y1="493.5" x2="459" y2="508" stroke="#999" stroke-width="0.5"/>
<text x="459" y="490" text-anchor="middle" class="lt">0%</text>
<line x1="517.5" y1="493.5" x2="517.5" y2="508" stroke="#999" stroke-width="0.5"/>
<text x="517.5" y="490" text-anchor="middle" class="lt">1%</text>
<line x1="576" y1="493.5" x2="576" y2="508" stroke="#999" stroke-width="0.5"/>
<text x="576" y="490" text-anchor="middle" class="lt">2%</text>
<line x1="634.5" y1="493.5" x2="634.5" y2="508" stroke="#999" stroke-width="0.5"/>
<text x="634.5" y="490" text-anchor="middle" class="lt">3%</text>
<line x1="693" y1="493.5" x2="693" y2="508" stroke="#999" stroke-width="0.5"/>
<text x="693" y="490" text-anchor="middle" class="lt">5%</text></g>
</svg>
<div class="foot" style="top:529.5px;letter-spacing:0.08px"><b>Data source:</b> National statistical organizations and central banks, OECD national accounts, and World Bank staff estimates (2026)</div>
<div class="foot" style="top:549.7px;letter-spacing:0.085px"><b>Note:</b> Data for world regions is aggregated using currency exchange rates, without any adjustment for price differences between countries.</div>
<div class="foot" style="top:569.6px;letter-spacing:0.21px">OurWorldinData.org/economic-growth | CC BY</div>
</body></html>
